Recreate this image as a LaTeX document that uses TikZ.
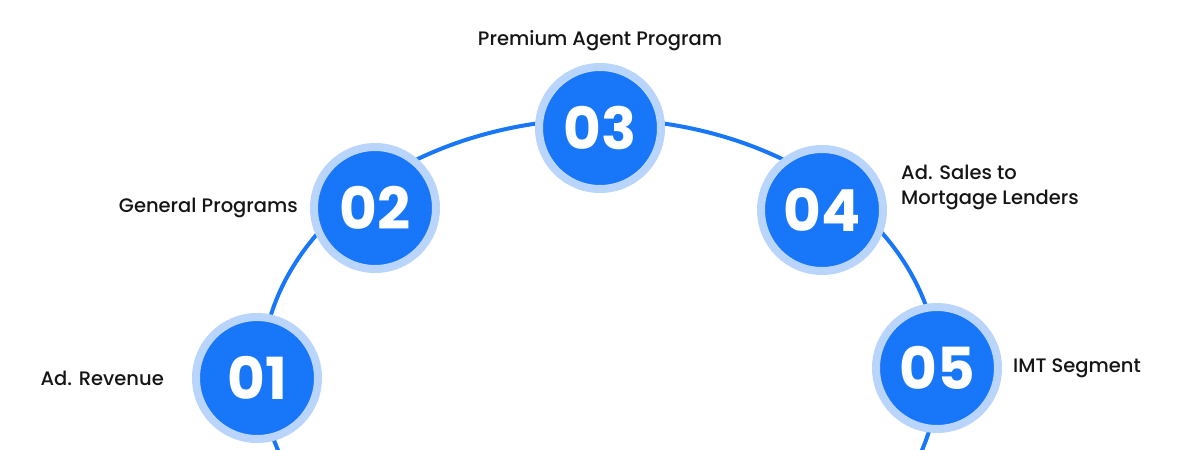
\documentclass[tikz,border=0pt]{standalone}
\usepackage{fontspec}
\setmainfont{Poppins}
\newfontfamily\labelfont{Poppins}[UprightFont=* Medium]
\usepackage{tikz}
\usetikzlibrary{positioning}
\usepackage{xcolor}
\definecolor{mainblue}{HTML}{1877F8}
\definecolor{ringblue}{HTML}{BAD5FB}
\definecolor{textdark}{HTML}{151515}

\begin{document}
\begin{tikzpicture}[
  x=1pt, y=-1pt,
  stage/.style={circle, draw=ringblue, line width=8pt, fill=mainblue,
                minimum size=122pt, inner sep=0pt, text=white,
                font=\fontsize{58}{58}\selectfont\bfseries},
  caption/.style={text=textdark, inner sep=0pt,
                  font=\labelfont\fontsize{19.5}{25}\selectfont},
  track/.style={draw=mainblue, line width=4pt}
]
  \useasboundingbox (0,0) rectangle (1200,450);

  % Track behind the stages
  \begin{scope}
    \clip (0,0) rectangle (1200,450);
    \draw[track] (600,373) ++(160:338 and 254) arc[start angle=160, end angle=380, x radius=338, y radius=254];
  \end{scope}

  % Stages
  \node[stage] (n1) at (257,378) {01};
  \node[stage] (n2) at (375,208) {02};
  \node[stage] (n3) at (600,128) {03};
  \node[stage] (n4) at (822,210) {04};
  \node[stage] (n5) at (937,368) {05};

  % Captions
  \node[caption, left=28pt of n1] (c1) {Ad. Revenue};
  \node[caption, left=12pt of n2] (c2) {General Programs};
  \node[caption] (c3) at (600,41) {Premium Agent Program};
  \node[caption, right=14pt of n4, yshift=23pt, align=left] (c4) {Ad. Sales to\\Mortgage Lenders};
  \node[caption, right=11pt of n5] (c5) {IMT Segment};
\end{tikzpicture}
\end{document}
